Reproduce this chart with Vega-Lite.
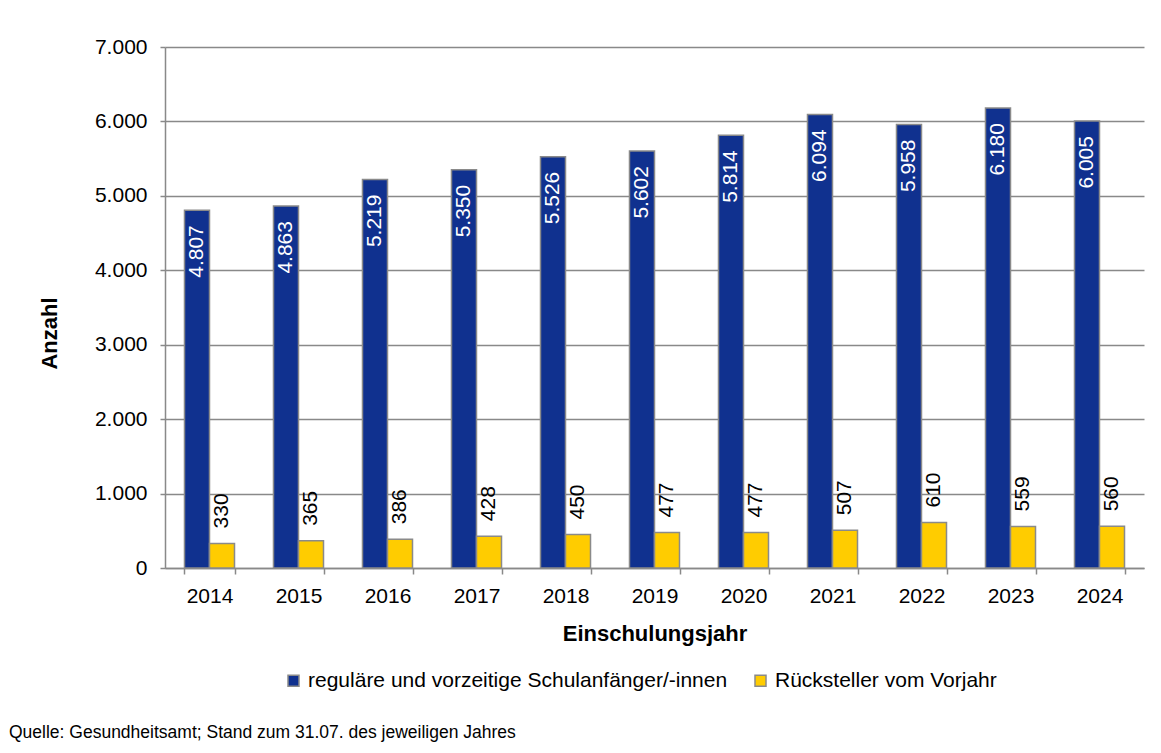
{
  "$schema": "https://vega.github.io/schema/vega-lite/v6.json",
  "autosize": {"type": "none"},
  "width": 979,
  "height": 521,
  "padding": {"left": 165, "top": 47, "right": 17, "bottom": 185},
  "background": "white",
  "config": {
    "font": "Liberation Sans",
    "view": {"stroke": null},
    "locale": {"number": {"decimal": ",", "thousands": ".", "grouping": [3], "currency": ["", " €"]}}
  },
  "title": {
    "text": "Quelle: Gesundheitsamt; Stand zum 31.07. des jeweiligen Jahres",
    "orient": "bottom",
    "anchor": "start",
    "frame": "group",
    "font": "Liberation Sans",
    "fontSize": 17.5,
    "fontWeight": "normal",
    "color": "black",
    "dx": -156,
    "offset": 33
  },
  "data": {
    "values": [
      {"year": "2014", "series": "reguläre und vorzeitige Schulanfänger/-innen", "value": 4807},
      {"year": "2015", "series": "reguläre und vorzeitige Schulanfänger/-innen", "value": 4863},
      {"year": "2016", "series": "reguläre und vorzeitige Schulanfänger/-innen", "value": 5219},
      {"year": "2017", "series": "reguläre und vorzeitige Schulanfänger/-innen", "value": 5350},
      {"year": "2018", "series": "reguläre und vorzeitige Schulanfänger/-innen", "value": 5526},
      {"year": "2019", "series": "reguläre und vorzeitige Schulanfänger/-innen", "value": 5602},
      {"year": "2020", "series": "reguläre und vorzeitige Schulanfänger/-innen", "value": 5814},
      {"year": "2021", "series": "reguläre und vorzeitige Schulanfänger/-innen", "value": 6094},
      {"year": "2022", "series": "reguläre und vorzeitige Schulanfänger/-innen", "value": 5958},
      {"year": "2023", "series": "reguläre und vorzeitige Schulanfänger/-innen", "value": 6180},
      {"year": "2024", "series": "reguläre und vorzeitige Schulanfänger/-innen", "value": 6005},
      {"year": "2014", "series": "Rücksteller vom Vorjahr", "value": 330},
      {"year": "2015", "series": "Rücksteller vom Vorjahr", "value": 365},
      {"year": "2016", "series": "Rücksteller vom Vorjahr", "value": 386},
      {"year": "2017", "series": "Rücksteller vom Vorjahr", "value": 428},
      {"year": "2018", "series": "Rücksteller vom Vorjahr", "value": 450},
      {"year": "2019", "series": "Rücksteller vom Vorjahr", "value": 477},
      {"year": "2020", "series": "Rücksteller vom Vorjahr", "value": 477},
      {"year": "2021", "series": "Rücksteller vom Vorjahr", "value": 507},
      {"year": "2022", "series": "Rücksteller vom Vorjahr", "value": 610},
      {"year": "2023", "series": "Rücksteller vom Vorjahr", "value": 559},
      {"year": "2024", "series": "Rücksteller vom Vorjahr", "value": 560}
    ]
  },
  "encoding": {
    "x": {
      "field": "year",
      "type": "nominal",
      "scale": {"paddingInner": 0.438, "paddingOuter": 0.219},
      "axis": {
        "title": "Einschulungsjahr",
        "titleFont": "Liberation Sans",
        "titleFontSize": 22,
        "titleFontWeight": "bold",
        "titleColor": "black",
        "titleY": 55,
        "titleBaseline": "top",
        "labelAngle": 0,
        "labelFont": "Liberation Sans",
        "labelFontSize": 21,
        "labelColor": "black",
        "labelPadding": 11,
        "tickBand": "extent",
        "tickSize": 6,
        "tickColor": "#898989",
        "tickWidth": 1.5,
        "domainColor": "#898989",
        "domainWidth": 1.5,
        "grid": false
      }
    },
    "xOffset": {
      "field": "series",
      "type": "nominal",
      "sort": ["reguläre und vorzeitige Schulanfänger/-innen", "Rücksteller vom Vorjahr"],
      "scale": {"paddingInner": 0, "paddingOuter": 0}
    },
    "y": {
      "field": "value",
      "type": "quantitative",
      "scale": {"domain": [0, 7000], "nice": false},
      "axis": {
        "title": "Anzahl",
        "titleFont": "Liberation Sans",
        "titleFontSize": 22,
        "titleFontWeight": "bold",
        "titleColor": "black",
        "titleX": -104,
        "titleY": 286,
        "values": [0, 1000, 2000, 3000, 4000, 5000, 6000, 7000],
        "format": ",d",
        "labelFont": "Liberation Sans",
        "labelFontSize": 21,
        "labelColor": "black",
        "labelPadding": 13,
        "tickSize": 5,
        "tickColor": "#898989",
        "tickWidth": 1.5,
        "domainColor": "#898989",
        "domainWidth": 1.5,
        "grid": true,
        "gridColor": "#898989",
        "gridWidth": 1.5
      }
    }
  },
  "layer": [
    {
      "mark": {"type": "bar", "stroke": "#8a8a8a", "strokeWidth": 1.5},
      "encoding": {
        "color": {
          "field": "series",
          "type": "nominal",
          "sort": ["reguläre und vorzeitige Schulanfänger/-innen", "Rücksteller vom Vorjahr"],
          "scale": {
            "domain": ["reguläre und vorzeitige Schulanfänger/-innen", "Rücksteller vom Vorjahr"],
            "range": ["#10318f", "#ffcc00"]
          },
          "legend": {
            "title": null,
            "orient": "none",
            "direction": "horizontal",
            "legendX": 118,
            "legendY": 623,
            "padding": 0,
            "symbolType": "square",
            "symbolSize": 121,
            "symbolStrokeColor": "#8a8a8a",
            "symbolStrokeWidth": 1.5,
            "labelFont": "Liberation Sans",
            "labelFontSize": 21,
            "labelColor": "black",
            "labelOffset": 4,
            "labelLimit": 700,
            "columnPadding": 22
          }
        }
      }
    },
    {
      "transform": [{"filter": "datum.series === 'reguläre und vorzeitige Schulanfänger/-innen'"}],
      "mark": {"type": "text", "angle": 270, "align": "right", "baseline": "middle", "dx": -15, "font": "Liberation Sans", "fontSize": 21, "color": "white"},
      "encoding": {
        "text": {"field": "value", "type": "quantitative", "format": ",d"}
      }
    },
    {
      "transform": [{"filter": "datum.series === 'Rücksteller vom Vorjahr'"}],
      "mark": {"type": "text", "angle": 270, "align": "left", "baseline": "middle", "dx": 15, "font": "Liberation Sans", "fontSize": 21, "color": "black"},
      "encoding": {
        "text": {"field": "value", "type": "quantitative", "format": ",d"}
      }
    }
  ]
}
